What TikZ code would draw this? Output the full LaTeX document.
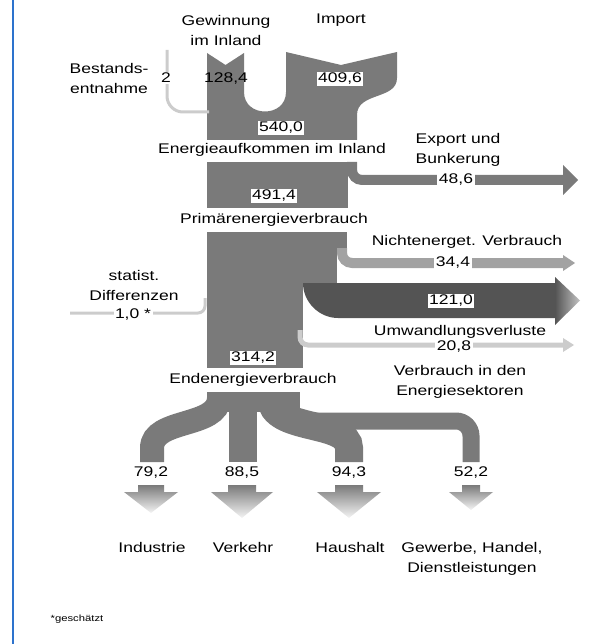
\documentclass[tikz,border=0pt]{standalone}
\usepackage{fontspec}
\setmainfont{Liberation Sans}[FakeStretch=1.25]
\usepackage{tikz}
\definecolor{flowgray}{RGB}{122,122,122}
\definecolor{darkflow}{RGB}{84,84,84}
\definecolor{midflow}{RGB}{162,162,162}
\definecolor{lightflow}{RGB}{204,204,204}
\definecolor{frameblue}{RGB}{45,115,205}

\begin{document}
\begin{tikzpicture}[x=1pt, y=-1pt,
  lab/.style={font=\fontsize{14}{20}\selectfont, align=center, inner sep=1pt},
  val/.style={lab, fill=white, inner sep=1.5pt},
  flow/.style={draw=flowgray, line width=#1},
  thin/.style={draw=lightflow, line width=3}
]
\useasboundingbox (0,0) rectangle (593,644);
\draw[frameblue, line width=2] (13,0) -- (13,644);

% Gewinnung + Import -> Energieaufkommen
\fill[flowgray] (207,53) -- (225.5,65) -- (244,53) -- (244,92) .. controls (244,118) and (286,118) .. (286,92)
  -- (286,52) -- (341,65) -- (397,52) -- (397,78) .. controls (397,100) and (357,92) .. (357,115)
  -- (357,140) -- (207,140) -- cycle;
\draw[thin, rounded corners=16] (167,50) -- (167,112) -- (209,112);

% Primaerenergie, Export
\fill[flowgray] (207,162) rectangle (348,208);
\draw[flow=10, rounded corners=10] (352,162) -- (352,180) -- (565,180);
\fill[flowgray] (563,165) -- (578,180) -- (563,195) -- cycle;

% Endenergie and losses
\fill[flowgray] (207,232) rectangle (347,250);
\fill[flowgray] (207,250) rectangle (337,283);
\fill[flowgray] (207,283) rectangle (303,368);
\draw[draw=midflow, line width=10, rounded corners=10] (342,248) -- (342,263) -- (565,263);
\fill[midflow] (563,255) -- (575,263) -- (563,271) -- cycle;
\fill[darkflow] (303,283) -- (556,283) -- (556,318) -- (338,318) .. controls (319,318) and (303,302) .. (303,283) -- cycle;
\shade[left color=darkflow, right color=darkflow!35] (555,277) -- (580,300.5) -- (555,325) -- cycle;
\draw[thin, line width=5, rounded corners=8] (300,330) -- (300,345) -- (565,345);
\fill[lightflow] (563,338) -- (574,345) -- (563,352) -- cycle;
\draw[thin, rounded corners=7] (205,298) -- (205,313) -- (70,313);

% sectors
\fill[flowgray] (207,392) rectangle (300,412);
\draw[flow=24] (219,398) .. controls (219,428) and (152,418) .. (152,448) -- (152,462);
\draw[flow=28] (243,398) -- (243,462);
\draw[flow=28] (271,398) .. controls (271,432) and (349,420) .. (349,448) -- (349,462);
\draw[flow=17, rounded corners=15] (292,421) -- (471,421) -- (471,462);

\foreach \nm/\xc/\s/\h/\tip/\val/\txt in {ind/151/13/27/513/{79,2}/Industrie,
    verk/242/14/31/518/{88,5}/Verkehr, haus/349/14/32/518/{94,3}/Haushalt,
    gew/471/9/22/510/{52,2}/{Gewerbe, Handel,\\Dienstleistungen}} {
  \shade[top color=flowgray, bottom color=white!92!flowgray]
    (\xc-\s,485) -- (\xc+\s,485) -- (\xc+\s,492) -- (\xc+\h,492) -- (\xc,\tip)
    -- (\xc-\h,492) -- (\xc-\s,492) -- cycle;
  \node[lab] (v-\nm) at (\xc,473) {\val};
  \node[lab, anchor=north] (t-\nm) at (\xc+1,541) {\txt};
}

\node[lab] (gewinnung) at (226,30) {Gewinnung\\im Inland};
\node[lab] (import) at (341,20) {Import};
\node[lab] (bestand) at (109,78) {Bestands-\\entnahme};
\node[val, inner sep=1pt] (bestandval) at (166,78) {2};
\node[lab] (gewval) at (226,79) {128,4};
\node[val] (impval) at (340,79) {409,6};
\node[val] (aufval) at (281,128) {540,0};
\node[lab] (aufkommen) at (272,150) {Energieaufkommen im Inland};
\node[lab] (export) at (458,150) {Export und\\Bunkerung};
\node[val] (expval) at (456,180) {48,6};
\node[val] (primval) at (274,196) {491,4};
\node[lab] (primaer) at (274,220) {Primärenergieverbrauch};
\node[lab] (nicht) at (467,242) {Nichtenerget. Verbrauch};
\node[val] (nichtval) at (453,263) {34,4};
\node[val] (umwval) at (451,301) {121,0};
\node[lab] (umwandl) at (460,332) {Umwandlungsverluste};
\node[val] (sektval) at (454,347) {20,8};
\node[lab] (sektor) at (460,382) {Verbrauch in den\\Energiesektoren};
\node[lab] (statist) at (134,285) {statist.\\Differenzen};
\node[val] (statval) at (133,315) {1,0 *};
\node[val] (endval) at (253,358) {314,2};
\node[lab] (ende) at (253,380) {Endenergieverbrauch};
\node[lab, font=\fontsize{9}{11}\selectfont] (schaetz) at (77,619) {*geschätzt};
\end{tikzpicture}
\end{document}
